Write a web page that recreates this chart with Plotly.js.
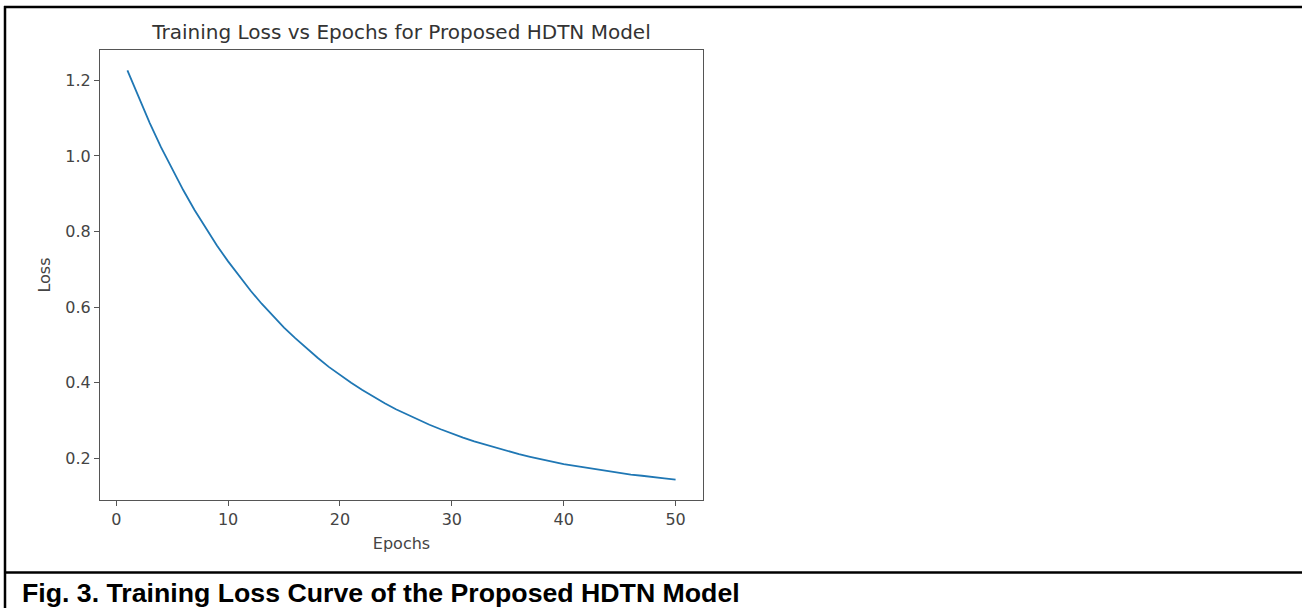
<!DOCTYPE html>
<html>
<head>
<meta charset="utf-8">
<script src="https://cdn.plot.ly/plotly-3.0.1.min.js"></script>
<style>
  html, body { margin: 0; padding: 0; background: #ffffff; }
  #chart { width: 1302px; height: 608px; }
</style>
</head>
<body>
<div id="chart"></div>
<script>
// ---- data ----
const epochs = [1,2,3,4,5,6,7,8,9,10,11,12,13,14,15,16,17,18,19,20,21,22,23,24,25,26,27,28,29,30,31,32,33,34,35,36,37,38,39,40,41,42,43,44,45,46,47,48,49,50];
const lossValues = [1.226,1.154,1.087,1.023,0.964,0.909,0.857,0.809,0.763,0.721,
                    0.681,0.644,0.609,0.577,0.546,0.518,0.491,0.466,0.442,0.420,
                    0.400,0.381,0.363,0.346,0.330,0.316,0.302,0.289,0.277,0.265,
                    0.255,0.245,0.236,0.227,0.219,0.211,0.204,0.197,0.191,0.185,
                    0.180,0.175,0.170,0.166,0.161,0.157,0.154,0.150,0.147,0.144];
const xTickValues = [0,10,20,30,40,50];
const yTickValues = [0.2,0.4,0.6,0.8,1.0,1.2];
const chartTitle = "Training Loss vs Epochs for Proposed HDTN Model";
const xTitle = "Epochs";
const yTitle = "Loss";
const captionText = "Fig. 3. Training Loss Curve of the Proposed HDTN Model";

// ---- geometry ----
const W = 1302, H = 608;
const M = {l: 100, r: 599, t: 50, b: 108};
const PW = W - M.l - M.r, PH = H - M.t - M.b;
const px = v => (v - M.l) / PW;          // pixel x -> paper x
const py = v => (H - M.b - v) / PH;      // pixel y -> paper y

// matplotlib-like 5% margins
const xmin = Math.min(...epochs), xmax = Math.max(...epochs);
const ymin = Math.min(...lossValues), ymax = Math.max(...lossValues);
const xpad = (xmax - xmin) * 0.05, ypad = (ymax - ymin) * 0.05;

const axisCommon = {
  showline: true, mirror: true, linecolor: '#555', linewidth: 1,
  ticks: 'outside', ticklen: 5, tickwidth: 1, tickcolor: '#555',
  showgrid: false, zeroline: false,
  tickfont: {family: 'DejaVu Sans', size: 16, color: '#444'}
};

const trace = {
  x: epochs, y: lossValues, type: 'scatter', mode: 'lines',
  line: {color: '#1f77b4', width: 1.8}, hoverinfo: 'skip'
};

const frame = {type: 'line', xref: 'paper', yref: 'paper', line: {color: '#000', width: 2.5}, layer: 'above'};

const layout = {
  width: W, height: H,
  margin: M,
  paper_bgcolor: '#ffffff', plot_bgcolor: '#ffffff',
  showlegend: false,
  title: {
    text: chartTitle, x: 0.5, xref: 'paper', xanchor: 'center',
    y: 1 - 32 / H, yref: 'container', yanchor: 'middle',
    font: {family: 'DejaVu Sans', size: 20, color: '#333'}
  },
  xaxis: Object.assign({}, axisCommon, {
    range: [xmin - xpad, xmax + xpad],
    tickvals: xTickValues, ticktext: xTickValues.map(String),
    title: {text: xTitle, standoff: 9, font: {family: 'DejaVu Sans', size: 16, color: '#444'}}
  }),
  yaxis: Object.assign({}, axisCommon, {
    range: [ymin - ypad, ymax + ypad],
    tickvals: yTickValues, ticktext: yTickValues.map(v => v.toFixed(1)),
    title: {text: yTitle, standoff: 10, font: {family: 'DejaVu Sans', size: 16, color: '#444'}}
  }),
  shapes: [
    Object.assign({}, frame, {x0: px(4), x1: px(1302), y0: py(7), y1: py(7)}),
    Object.assign({}, frame, {x0: px(5), x1: px(5), y0: py(6), y1: py(620)}),
    Object.assign({}, frame, {x0: px(4), x1: px(1302), y0: py(572.5), y1: py(572.5)})
  ],
  annotations: [{
    text: '<b>' + captionText + '</b>', xref: 'paper', yref: 'paper',
    x: px(20), y: py(592.5), xanchor: 'left', yanchor: 'middle', showarrow: false,
    font: {family: 'Liberation Sans', size: 26.7, color: '#000'}
  }]
};

Plotly.newPlot('chart', [trace], layout, {staticPlot: true, displayModeBar: false});
</script>
</body>
</html>
